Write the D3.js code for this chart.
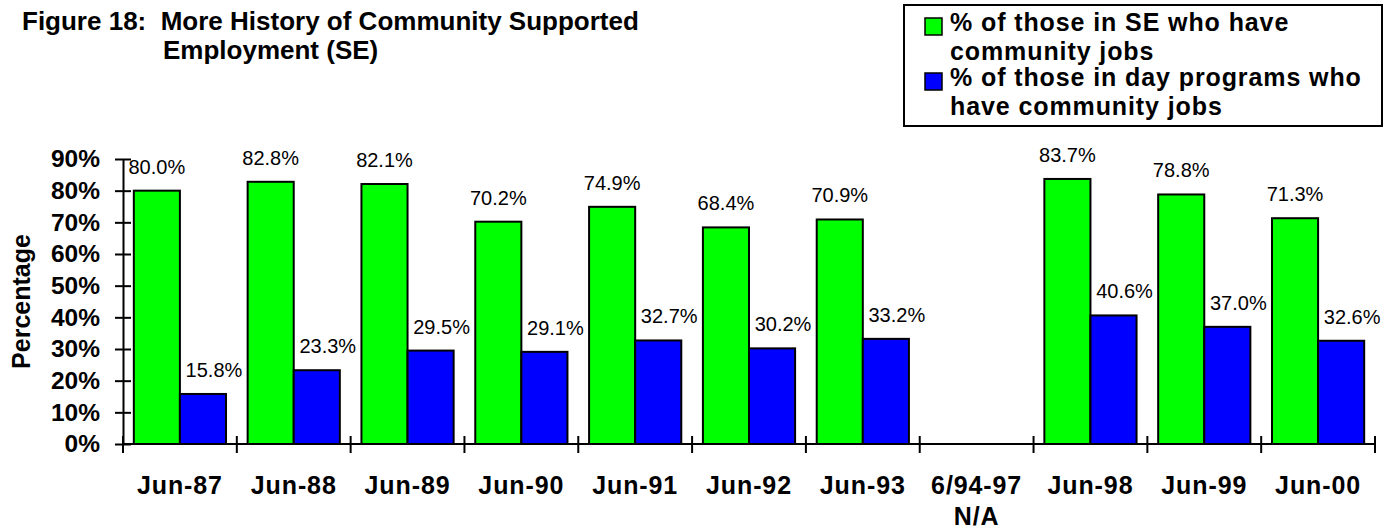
<!DOCTYPE html>
<html>
<head>
<meta charset="utf-8">
<script src="https://cdn.jsdelivr.net/npm/d3@7/dist/d3.min.js"></script>
<style>
  html, body { margin: 0; padding: 0; background: #fff; }
  svg { display: block; }
  text { font-family: "Liberation Sans", Arial, Helvetica, sans-serif; fill: #000; }
</style>
</head>
<body>
<svg id="chart" width="1396" height="529"></svg>
<script>
// Community supported employment history, by year (percent)
const categories = ["Jun-87", "Jun-88", "Jun-89", "Jun-90", "Jun-91", "Jun-92", "Jun-93", "6/94-97\nN/A", "Jun-98", "Jun-99", "Jun-00"];
const seCommunity = [80.0, 82.8, 82.1, 70.2, 74.9, 68.4, 70.9, null, 83.7, 78.8, 71.3];
const dayCommunity = [15.8, 23.3, 29.5, 29.1, 32.7, 30.2, 33.2, null, 40.6, 37.0, 32.6];
const seriesNames = ["% of those in SE who have\ncommunity jobs", "% of those in day programs who\nhave community jobs"];
const seriesColors = ["#00ff00", "#0000ff"];
const yTicks = [0, 10, 20, 30, 40, 50, 60, 70, 80, 90];
const titleLines = ["Figure 18:  More History of Community Supported", "Employment (SE)"];
const yAxisTitle = "Percentage";

const svg = d3.select("#chart");

const plot = { left: 123, right: 1375, top: 159, bottom: 444 };

const x = d3.scaleBand()
  .domain(categories)
  .range([plot.left, plot.right])
  .paddingInner(0.19)
  .paddingOuter(0.095);

const xSeries = d3.scaleBand()
  .domain([0, 1])
  .range([0, x.bandwidth()]);

const y = d3.scaleLinear().domain([0, 90]).range([plot.bottom, plot.top]);

const series = [seCommunity, dayCommunity];

// Bars
series.forEach((vals, s) => {
  const rows = categories.map((c, i) => ({ c, v: vals[i] })).filter(d => d.v != null);
  svg.append("g")
    .selectAll("rect")
    .data(rows)
    .join("rect")
    .attr("x", d => x(d.c) + xSeries(s))
    .attr("y", d => y(d.v))
    .attr("width", xSeries.bandwidth())
    .attr("height", d => y(0) - y(d.v))
    .attr("fill", seriesColors[s])
    .attr("stroke", "#000")
    .attr("stroke-width", 2);

  // Value labels
  svg.append("g")
    .selectAll("text")
    .data(rows)
    .join("text")
    .attr("x", d => x(d.c) + xSeries(s) + xSeries.bandwidth() / 2 + (s === 1 ? 11 : 0))
    .attr("y", d => y(d.v) - 17)
    .attr("text-anchor", "middle")
    .style("font-size", "20px")
    .text(d => d.v.toFixed(1) + "%");
});

// Y axis
const yAxis = d3.axisLeft(y)
  .tickValues(yTicks)
  .tickFormat(d => d + "%")
  .tickSizeInner(8)
  .tickSizeOuter(0)
  .tickPadding(15);

const gy = svg.append("g")
  .attr("transform", `translate(${plot.left},0)`)
  .call(yAxis);
gy.select(".domain").attr("stroke", "#000").attr("stroke-width", 2);
gy.selectAll(".tick line").attr("x1", 8).attr("stroke", "#000").attr("stroke-width", 2);
gy.selectAll(".tick text")
  .style("font-size", "24.5px")
  .style("font-weight", "bold")
  .attr("fill", "#000");

// X axis line and category boundary ticks
const gx = svg.append("g");
gx.append("line")
  .attr("x1", plot.left).attr("x2", plot.right)
  .attr("y1", y(0)).attr("y2", y(0))
  .attr("stroke", "#000").attr("stroke-width", 2);
gx.selectAll("line.bound")
  .data(d3.range(categories.length + 1))
  .join("line")
  .attr("class", "bound")
  .attr("x1", i => x.range()[0] + i * x.step())
  .attr("x2", i => x.range()[0] + i * x.step())
  .attr("y1", y(0) - 8)
  .attr("y2", y(0) + 9)
  .attr("stroke", "#000").attr("stroke-width", 2);

// Category labels
gx.selectAll("text.cat")
  .data(categories)
  .join("text")
  .attr("class", "cat")
  .attr("text-anchor", "middle")
  .style("font-size", "25px")
  .style("font-weight", "bold")
  .style("letter-spacing", "0.9px")
  .each(function (c) {
    const t = d3.select(this);
    c.split("\n").forEach((line, k) => {
      t.append("tspan")
        .attr("x", x(c) + x.bandwidth() / 2)
        .attr("y", 494 + k * 31)
        .text(line);
    });
  });

// Y axis title
svg.append("text")
  .attr("transform", `translate(30,${(plot.top + plot.bottom) / 2}) rotate(-90)`)
  .attr("text-anchor", "middle")
  .style("font-size", "25px")
  .style("font-weight", "bold")
  .text(yAxisTitle);

// Title
svg.append("text")
  .attr("x", 22).attr("y", 30)
  .style("font-size", "26px")
  .style("font-weight", "bold")
  .style("white-space", "pre")
  .text(titleLines[0]);
svg.append("text")
  .attr("x", 163).attr("y", 59)
  .style("font-size", "26px")
  .style("font-weight", "bold")
  .text(titleLines[1]);

// Legend
const legend = svg.append("g");
legend.append("rect")
  .attr("x", 904).attr("y", 5)
  .attr("width", 478).attr("height", 121)
  .attr("fill", "#fff")
  .attr("stroke", "#000").attr("stroke-width", 2);

seriesNames.forEach((name, s) => {
  const baseY = 31 + s * 55;
  legend.append("rect")
    .attr("x", 925).attr("y", baseY - 13)
    .attr("width", 17).attr("height", 17)
    .attr("fill", seriesColors[s])
    .attr("stroke", "#000").attr("stroke-width", 1.5);
  const t = legend.append("text")
    .style("font-size", "25px")
    .style("font-weight", "bold")
    .style("letter-spacing", "0.9px");
  name.split("\n").forEach((line, k) => {
    t.append("tspan")
      .attr("x", 950)
      .attr("y", baseY + k * 28.5)
      .text(line);
  });
});
</script>
</body>
</html>
